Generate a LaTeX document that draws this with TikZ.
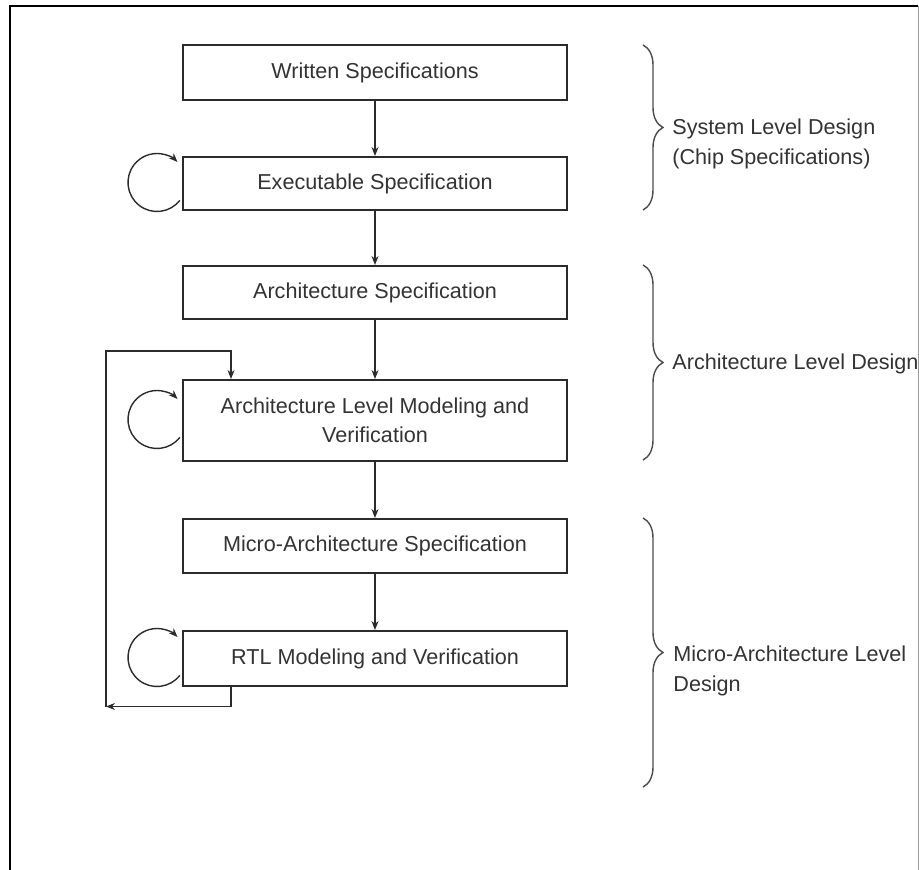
\documentclass[tikz,border=0pt]{standalone}
\usepackage{fontspec}
\setmainfont{Liberation Sans}
\usetikzlibrary{arrows.meta,calc,decorations.pathreplacing}
\definecolor{ink}{HTML}{2B2B2B}
\definecolor{textgray}{HTML}{333333}
\definecolor{edge}{HTML}{9A9A9A}
\tikzset{
  stage/.style={draw=ink,line width=1pt,minimum width=192pt,minimum height=27pt,
                text=textgray,font=\fontsize{10.8}{14.5}\selectfont,align=center,inner sep=2pt},
  flow/.style={-{Stealth[length=4.5pt,width=3.5pt]},line width=0.7pt,color=ink},
  grp/.style={decorate,decoration={brace,amplitude=10pt},line width=0.7pt,color=ink!85},
  grplabel/.style={anchor=west,align=left,text=textgray,font=\fontsize{10.8}{15}\selectfont,inner sep=0pt},
}

\begin{document}
\begin{tikzpicture}[x=0.5pt,y=-0.5pt]
  \useasboundingbox (0,0) rectangle (919,870);
  % frame
  \draw[line width=1pt] (10,870) -- (10,6.5) -- (918,6.5);
  \draw[edge,line width=0.6pt] (918.5,6.5) -- (918.5,870);
  % design stages
  \foreach \name/\y/\h/\body in {
      ws/72.5/27.5pt/{Written Specifications},
      es/183.5/26.5pt/{Executable Specification},
      as/292.5/26.5pt/{Architecture Specification},
      alm/420.5/40.5pt/{Architecture Level Modeling and\\Verification},
      mas/546/27pt/{Micro-Architecture Specification},
      rtl/658.5/27.5pt/{RTL Modeling and Verification}%
    }{
      \node[stage,minimum height=\h] (\name) at (375,\y) {\body};
    }
  \foreach \a/\b in {ws/es,es/as,as/alm,alm/mas,mas/rtl}
    \draw[flow] (\a.south) -- (\b.north);
  % self loops
  \foreach \n in {es,alm,rtl}
    \draw[flow] ($(\n.west)+(-25,-1)+(38:29)$) arc[start angle=38,end angle=315,radius=29];
  % feedback from RTL back to architecture modeling
  \coordinate (fbl) at (106,706.5);
  \coordinate (fbt) at (106,351);
  \draw[flow] ([xshift=24.5pt]rtl.south west) |- (fbl);
  \draw[flow] (fbl) -- (fbt) -| ([xshift=24.5pt]alm.north west);
  % levels
  \draw[grp] (643,45) -- (643,210);
  \draw[grp] (643,265) -- (643,460);
  \draw[grp] (643,518) -- (643,787);
  \node[grplabel] (syslbl) at (672,143.5) {System Level Design\\(Chip Specifications)};
  \node[grplabel] (archlbl) at (672,364) {Architecture Level Design};
  \node[grplabel] (microlbl) at (673,671) {Micro-Architecture Level\\Design};
\end{tikzpicture}
\end{document}
